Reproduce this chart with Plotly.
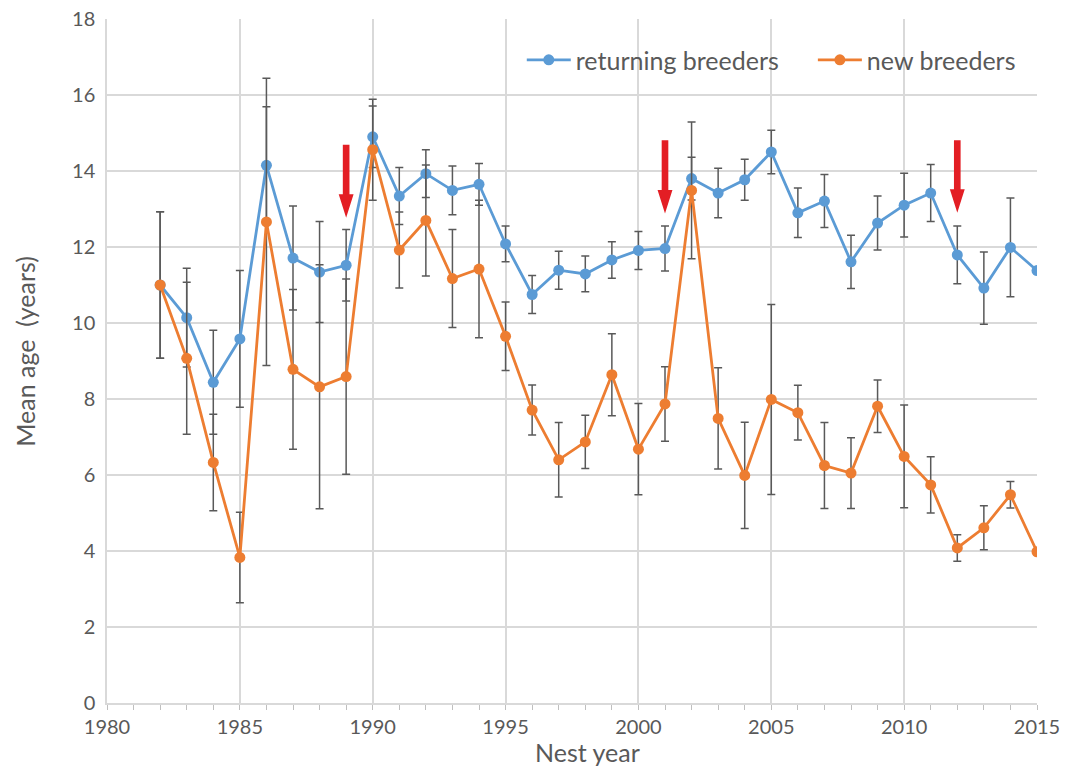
import plotly.graph_objects as go

years = list(range(1982, 2016))

returning = [11.0, 10.14, 8.44, 9.58, 14.15, 11.71, 11.34, 11.52, 14.90, 13.34,
             13.93, 13.49, 13.65, 12.08, 10.75, 11.39, 11.29, 11.66, 11.91, 11.96,
             13.80, 13.42, 13.77, 14.50, 12.90, 13.21, 11.61, 12.63, 13.10, 13.42,
             11.79, 10.92, 11.99, 11.38]
returning_err = [1.93, 1.30, 1.37, 1.80, 1.54, 1.37, 1.33, 0.94, 0.81, 0.75,
                 0.63, 0.64, 0.55, 0.47, 0.50, 0.50, 0.47, 0.48, 0.50, 0.59,
                 0.56, 0.65, 0.54, 0.57, 0.65, 0.70, 0.70, 0.71, 0.84, 0.75,
                 0.76, 0.95, 1.30, 0.0]

new = [11.0, 9.07, 6.33, 3.83, 12.66, 8.78, 8.32, 8.59, 14.56, 11.92,
       12.70, 11.17, 11.42, 9.65, 7.71, 6.40, 6.87, 8.64, 6.68, 7.87,
       13.49, 7.49, 5.99, 7.99, 7.64, 6.25, 6.05, 7.81, 6.49, 5.74,
       4.08, 4.61, 5.48, 3.98]
new_err = [1.93, 2.00, 1.27, 1.19, 3.78, 2.10, 3.21, 2.57, 1.33, 1.00,
           1.46, 1.29, 1.81, 0.90, 0.66, 0.98, 0.70, 1.08, 1.20, 0.98,
           1.80, 1.33, 1.40, 2.50, 0.72, 1.13, 0.93, 0.69, 1.35, 0.74,
           0.35, 0.58, 0.35, 0.0]

arrow_years = [1989, 2001, 2012]
arrow_tip = [12.77, 12.88, 12.9]
arrow_tail = [14.69, 14.81, 14.81]

BLUE = "#5B9BD5"
ORANGE = "#ED7D31"
GRAY = "#595959"
GRID = "#D9D9D9"
RED = "#E31E24"
FONT = "Lato"

# arrow geometry (in data units)
SHAFT_HALF = 0.125
HEAD_HALF = 0.28
HEAD_LEN = 0.62

fig = go.Figure()

err_style = dict(type="data", symmetric=True, color=GRAY, thickness=1.5, width=4)

fig.add_trace(go.Scatter(
    x=years, y=returning, name="returning breeders", mode="lines+markers",
    line=dict(color=BLUE, width=2.8), marker=dict(color=BLUE, size=11),
    error_y=dict(array=returning_err, **err_style), legend="legend",
))
fig.add_trace(go.Scatter(
    x=years, y=new, name="new breeders", mode="lines+markers",
    line=dict(color=ORANGE, width=2.8), marker=dict(color=ORANGE, size=11),
    error_y=dict(array=new_err, **err_style), legend="legend2",
))

for xa, tip, tail in zip(arrow_years, arrow_tip, arrow_tail):
    hb = tip + HEAD_LEN
    path = (f"M {xa - SHAFT_HALF},{tail} L {xa + SHAFT_HALF},{tail} "
            f"L {xa + SHAFT_HALF},{hb} L {xa + HEAD_HALF},{hb} L {xa},{tip} "
            f"L {xa - HEAD_HALF},{hb} L {xa - SHAFT_HALF},{hb} Z")
    fig.add_shape(type="path", path=path, xref="x", yref="y",
                  fillcolor=RED, line=dict(width=0), layer="above")

fig.add_annotation(text="Nest year", xref="paper", yref="paper",
                   x=0.517, y=-0.0716, xanchor="center", yanchor="middle",
                   showarrow=False, font=dict(size=25, color=GRAY))
fig.add_annotation(text="Mean age  (years)", xref="paper", yref="paper",
                   x=-0.0882, y=0.515, xanchor="center", yanchor="middle",
                   textangle=-90, showarrow=False, font=dict(size=25, color=GRAY))

legend_style = dict(orientation="h", xanchor="left", y=0.94, yanchor="middle",
                    font=dict(size=25, color=GRAY), bgcolor="rgba(0,0,0,0)",
                    itemwidth=44)

fig.update_layout(
    width=1076, height=770,
    margin=dict(l=99, r=47, t=11, b=75),
    paper_bgcolor="white", plot_bgcolor="white",
    font=dict(family=FONT, color=GRAY, size=20),
    showlegend=True,
    legend=dict(x=0.446, **legend_style),
    legend2=dict(x=0.759, **legend_style),
)

fig.update_xaxes(
    range=[1980, 2015], dtick=5, tick0=1980, automargin=False,
    showgrid=True, gridcolor=GRID, gridwidth=1.5,
    showline=True, linecolor=GRID, linewidth=1.5,
    ticks="outside", ticklen=5, tickcolor="#BFBFBF",
    minor=dict(dtick=1, ticks="outside", ticklen=5, tickcolor="#BFBFBF", showgrid=False),
    tickfont=dict(size=20, color=GRAY), ticklabeloverflow="allow",
    zeroline=False,
)
fig.update_yaxes(
    range=[0, 18], dtick=2, automargin=False,
    showgrid=True, gridcolor=GRID, gridwidth=1.5,
    showline=True, linecolor=GRID, linewidth=1.5,
    tickfont=dict(size=20, color=GRAY), ticklabelstandoff=6, ticklabeloverflow="allow",
    zeroline=False,
)

fig.write_html("out.html")
